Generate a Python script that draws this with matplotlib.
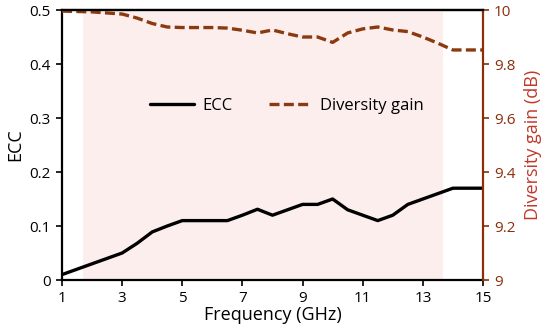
import matplotlib
matplotlib.use("Agg")
import matplotlib.pyplot as plt
from matplotlib.patches import Rectangle

plt.rcParams['font.family'] = ['Open Sans', 'DejaVu Sans']

freq = [1, 2, 3, 3.5, 4, 4.5, 5, 5.5, 6, 6.5, 7, 7.5, 8, 8.5, 9, 9.5, 10, 10.5, 11, 11.5, 12, 12.5, 13, 13.5, 14, 15]
ecc = [0.01, 0.03, 0.05, 0.068, 0.089, 0.10, 0.11, 0.11, 0.11, 0.11, 0.12, 0.131, 0.12, 0.13, 0.14, 0.14, 0.15, 0.13, 0.12, 0.11, 0.12, 0.14, 0.15, 0.16, 0.17, 0.17]
dg = [9.996, 9.993, 9.985, 9.97, 9.95, 9.937, 9.935, 9.935, 9.935, 9.933, 9.925, 9.915, 9.926, 9.912, 9.9, 9.9, 9.88, 9.915, 9.93, 9.937, 9.926, 9.92, 9.9, 9.877, 9.852, 9.852]

xticks = [1, 3, 5, 7, 9, 11, 13, 15]
yticks_left = [0, 0.1, 0.2, 0.3, 0.4, 0.5]
ytick_left_labels = ['0', '0.1', '0.2', '0.3', '0.4', '0.5']
yticks_right = [9, 9.2, 9.4, 9.6, 9.8, 10]
ytick_right_labels = ['9', '9.2', '9.4', '9.6', '9.8', '10']

brown = '#8B2E0B'
red = '#C0392B'

fig = plt.figure(figsize=(5.5, 3.33), dpi=100)
ax = fig.add_axes([62/550, 1-280/333, (483-62)/550, (280-10)/333])
ax2 = ax.twinx()
ax.add_patch(Rectangle((83/550, 1-280/333), (443-83)/550, (280-12)/333,
                       transform=fig.transFigure, facecolor='#fdeeee',
                       edgecolor='none', zorder=0, clip_on=False))

l1, = ax.plot(freq, ecc, color='black', lw=2.4, label='ECC', zorder=3,
              solid_joinstyle='round', solid_capstyle='round')
l2, = ax2.plot(freq, dg, color='#8B3A0F', lw=2.4, ls=(0, (3.0, 1.3)), label='Diversity gain',
               dash_joinstyle='round', dash_capstyle='butt')

ax.set_xlim(1, 15)
ax.set_ylim(0, 0.5)
ax2.set_ylim(9, 10)
ax.set_xticks(xticks)
ax.set_xticklabels([str(t) for t in xticks])
ax.set_yticks(yticks_left)
ax.set_yticklabels(ytick_left_labels)
ax2.set_yticks(yticks_right)
ax2.set_yticklabels(ytick_right_labels)

for a in (ax, ax2):
    for s in a.spines.values():
        s.set_linewidth(1.6)
ax.spines['right'].set_visible(False)
ax2.spines['right'].set_color(brown)
ax2.spines['left'].set_visible(False)
ax2.spines['bottom'].set_visible(False)

ax.tick_params(axis='both', direction='out', length=4, width=1.2, labelsize=11, colors='black', pad=4)
ax2.tick_params(axis='y', direction='out', length=4, width=1.2, labelsize=11, colors=brown, labelcolor=brown, pad=4)

ax.set_xlabel('Frequency (GHz)', fontsize=13, labelpad=0)
ax.set_ylabel('ECC', fontsize=13, labelpad=4)
ax2.set_ylabel('Diversity gain (dB)', fontsize=13, color=red, labelpad=6)

ax2.legend([l1, l2], ['ECC', 'Diversity gain'], loc='upper center', bbox_to_anchor=(0.535, 0.73),
           ncol=2, frameon=False, fontsize=12, handlelength=2.6, handletextpad=0.5,
           columnspacing=2.2)

fig.savefig('out.png', dpi=100)
